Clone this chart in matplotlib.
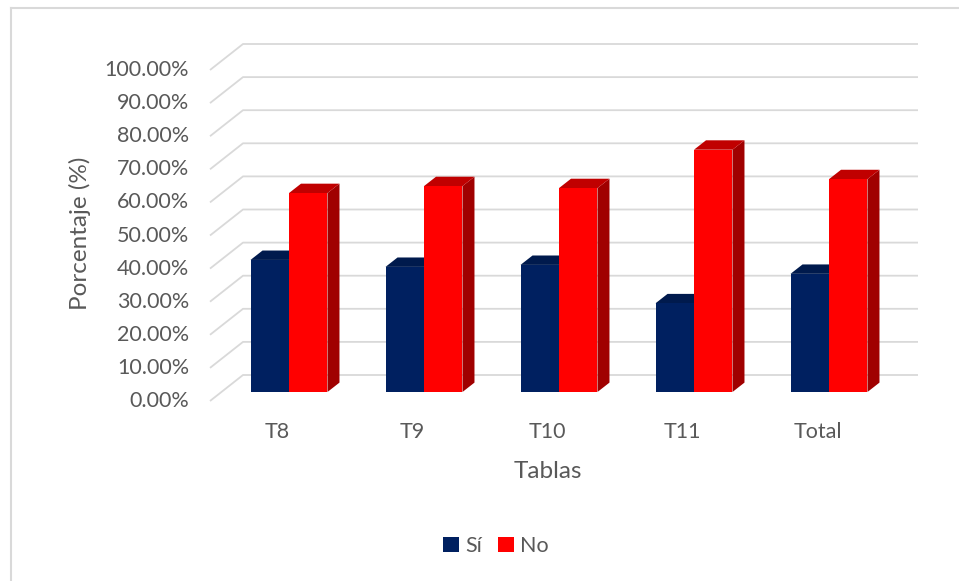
import numpy as np
import matplotlib
matplotlib.use("Agg")
import matplotlib.pyplot as plt
from matplotlib.patches import Polygon

# Datos
categorias = ["T8", "T9", "T10", "T11", "Total"]
si = [39.9, 37.8, 38.4, 26.8, 35.7]
no = [60.1, 62.2, 61.6, 73.2, 64.3]
ticks_y = np.arange(0, 101, 10)

plt.rcParams["font.family"] = ["Lato", "DejaVu Sans"]
gris_texto = "#595959"
gris_rejilla = "#D9D9D9"

W, H = 959, 581
fig = plt.figure(figsize=(W / 100, H / 100), dpi=100)

# Eje en el plano frontal de las barras (pixeles)
x0, x1 = 221.5, 896.5
y0, y1 = 392, 61
ax = fig.add_axes([x0 / W, 1 - y0 / H, (x1 - x0) / W, (y0 - y1) / H])
ax.set_xlim(-0.5, 4.5)
ax.set_ylim(0, 100)
ax.axis("off")

# conversion de pixeles a unidades de datos
sx = 5 / (x1 - x0)
sy = 100 / (y0 - y1)

def px(dx, dy):
    return dx * sx, dy * sy

# profundidad del grafico 3D
fx, fy = px(-11.5, -9)     # plano frontal
bx, by = px(21.5, 17)      # pared del fondo
dx, dy = px(12, 9.4)       # fondo de cada barra
ancho = 0.285

# Rejilla: diagonal en el piso izquierdo + linea en la pared del fondo
for v in ticks_y:
    ax.plot([-0.5 + fx, -0.5 + bx, 4.5 + bx], [v + fy, v + by, v + by],
            color=gris_rejilla, lw=1.3, clip_on=False, zorder=1,
            solid_capstyle="butt")

def barra(x, h, frente, arriba, lado):
    xl, xr = x, x + ancho
    cara = Polygon([(xl, 0), (xr, 0), (xr, h), (xl, h)],
                   closed=True, fc=frente, ec="none", zorder=3)
    tapa = Polygon([(xl, h), (xr, h), (xr + dx, h + dy), (xl + dx, h + dy)],
                   closed=True, fc=arriba, ec="none", zorder=3)
    costado = Polygon([(xr, 0), (xr + dx, dy), (xr + dx, h + dy), (xr, h)],
                      closed=True, fc=lado, ec="none", zorder=3)
    for p in (costado, tapa, cara):
        p.set_clip_on(False)
        ax.add_patch(p)

for i in range(len(categorias)):
    barra(i - ancho, si[i], "#002060", "#001A4D", "#001642")
    barra(i, no[i], "#FF0000", "#C00000", "#A00000")

# Etiquetas del eje Y en el plano frontal
for v in ticks_y:
    ax.annotate(f"{v:.2f}%", xy=(-0.5 + fx, v + fy), xytext=(-21, 0),
                textcoords="offset pixels", ha="right", va="center",
                fontsize=15.5, color=gris_texto, annotation_clip=False)

# Etiquetas de categorias
for i, c in enumerate(categorias):
    ax.annotate(c, xy=(i + fx, fy), xytext=(0, -31),
                textcoords="offset pixels", ha="center", va="center",
                fontsize=15.5, color=gris_texto, annotation_clip=False)

fig.text(548 / W, 1 - 471 / H, "Tablas", ha="center", va="center",
         fontsize=17.5, color=gris_texto)
fig.text(80 / W, 1 - 233 / H, "Porcentaje (%)", ha="center", va="center",
         rotation=90, fontsize=17.5, color=gris_texto)

# Leyenda
leg = fig.legend(handles=[plt.Rectangle((0, 0), 1, 1, fc="#002060"),
                          plt.Rectangle((0, 0), 1, 1, fc="#FF0000")],
                 labels=["Sí", "No"], loc="center",
                 bbox_to_anchor=(496 / W, 1 - 546 / H), ncol=2,
                 frameon=False, fontsize=15.5, handlelength=0.72,
                 handleheight=0.72, handletextpad=0.3, columnspacing=0.75,
                 labelcolor=gris_texto)

# Borde del area del grafico
fig.add_artist(plt.Line2D([11 / W, 11 / W], [0, 1 - 8 / H], color="#D9D9D9",
                          lw=1.5, transform=fig.transFigure))
fig.add_artist(plt.Line2D([11 / W, 1], [1 - 8 / H, 1 - 8 / H], color="#D9D9D9",
                          lw=1.5, transform=fig.transFigure))

fig.savefig("out.png", dpi=100, facecolor="white")
